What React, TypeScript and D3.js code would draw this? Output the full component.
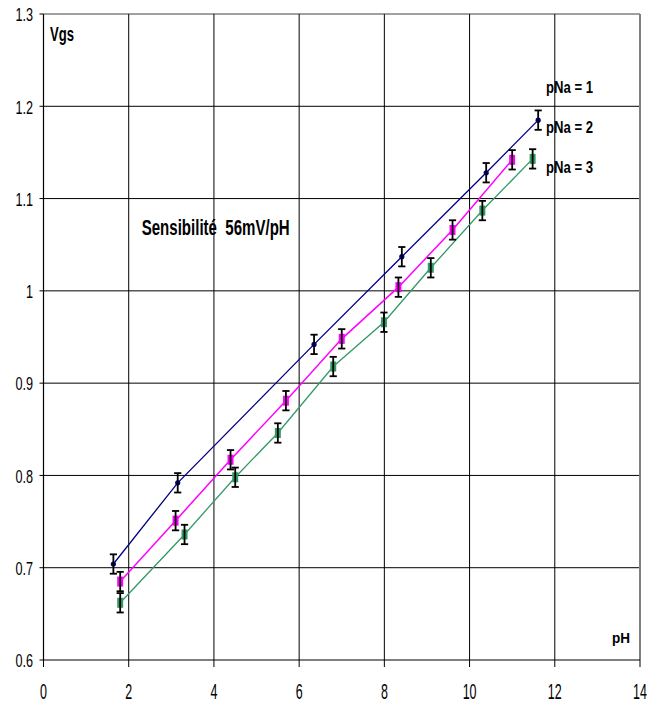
import React from "react";
import * as d3 from "d3";

const xTicks = [0, 2, 4, 6, 8, 10, 12, 14];
const yTicks = [0.6, 0.7, 0.8, 0.9, 1.0, 1.1, 1.2, 1.3];
const yTickLabels = ["0.6", "0.7", "0.8", "0.9", "1", "1.1", "1.2", "1.3"];

const pNa1PH = [1.64, 3.15, 6.35, 8.41, 10.39, 11.61];
const pNa1Vgs = [0.704, 0.792, 0.942, 1.037, 1.128, 1.185];
const pNa2PH = [1.8, 3.1, 4.39, 5.69, 7.0, 8.33, 9.6, 11.0];
const pNa2Vgs = [0.685, 0.751, 0.817, 0.881, 0.948, 1.004, 1.066, 1.142];
const pNa3PH = [1.8, 3.31, 4.5, 5.5, 6.8, 7.99, 9.09, 10.3, 11.48];
const pNa3Vgs = [0.662, 0.736, 0.798, 0.846, 0.918, 0.966, 1.025, 1.087, 1.143];
const errorMargin = 0.0105;

const seriesNames = ["pNa = 1", "pNa = 2", "pNa = 3"];

const W = 662;
const H = 709;
const left = 43.5;
const right = 640;
const top = 14;
const bottom = 660;

const FONT = "'Liberation Sans', Arial, sans-serif";

export default function App() {
  const x = d3.scaleLinear().domain([0, 14]).range([left, right]);
  const y = d3.scaleLinear().domain([0.6, 1.3]).range([bottom, top]);

  const series = [
    { name: seriesNames[0], xs: pNa1PH, ys: pNa1Vgs, color: "#000080", marker: "circle", lw: 1.3 },
    { name: seriesNames[1], xs: pNa2PH, ys: pNa2Vgs, color: "#FF00FF", marker: "rect", lw: 1.5 },
    { name: seriesNames[2], xs: pNa3PH, ys: pNa3Vgs, color: "#339966", marker: "rect", lw: 1.3 },
  ];

  const line = d3
    .line<[number, number]>()
    .x((d) => x(d[0]))
    .y((d) => y(d[1]));

  return (
    <svg
      width={W}
      height={H}
      style={{ position: "absolute", left: 0, top: 0, background: "#fff" }}
    >
      <rect x={0} y={0} width={W} height={H} fill="#fff" />
      {yTicks.map((t, i) =>
        i === 0 ? null : (
          <line
            key={"hy" + i}
            x1={left}
            x2={right}
            y1={y(t)}
            y2={y(t)}
            stroke={i === yTicks.length - 1 ? "#808080" : "#000"}
            strokeWidth={i === yTicks.length - 1 ? 1.6 : 1}
          />
        )
      )}
      {xTicks.map((t, i) =>
        i === 0 ? null : (
          <line
            key={"vx" + i}
            x1={x(t)}
            x2={x(t)}
            y1={top}
            y2={bottom}
            stroke={i === xTicks.length - 1 ? "#808080" : "#000"}
            strokeWidth={i === xTicks.length - 1 ? 2 : 1}
          />
        )
      )}
      <line x1={left} x2={left} y1={top} y2={bottom} stroke="#000" strokeWidth={1.2} />
      <line x1={left} x2={right} y1={bottom} y2={bottom} stroke="#000" strokeWidth={1.2} />
      {yTicks.map((t, i) => (
        <line key={"yt" + i} x1={left - 4} x2={left} y1={y(t)} y2={y(t)} stroke="#000" strokeWidth={1} />
      ))}
      {xTicks.map((t, i) => (
        <line key={"xt" + i} x1={x(t)} x2={x(t)} y1={bottom} y2={bottom + 7} stroke="#000" strokeWidth={1} />
      ))}
      {yTicks.map((t, i) => (
        <text
          key={"yl" + i}
          transform={`translate(33,${y(t) + 7.3}) scale(0.68,1)`}
          textAnchor="end"
          fontFamily={FONT}
          fontSize={18.6}
          fill="#000"
        >
          {yTickLabels[i]}
        </text>
      ))}
      {xTicks.map((t, i) => (
        <text
          key={"xl" + i}
          transform={`translate(${x(t)},699) scale(0.58,1)`}
          textAnchor="middle"
          fontFamily={FONT}
          fontSize={21.5}
          fill="#000"
        >
          {t}
        </text>
      ))}
      {series.map((s) => (
        <path
          key={"l" + s.name}
          d={line(s.xs.map((v, i) => [v, s.ys[i]] as [number, number])) || ""}
          fill="none"
          stroke={s.color}
          strokeWidth={s.lw}
        />
      ))}
      {series.map((s) =>
        s.xs.map((v, i) =>
          s.marker === "circle" ? (
            <circle key={"m" + s.name + i} cx={x(v)} cy={y(s.ys[i])} r={2.6} fill={s.color} />
          ) : (
            <rect
              key={"m" + s.name + i}
              x={x(v) - 3}
              y={y(s.ys[i]) - 5}
              width={6}
              height={10}
              fill={s.color}
            />
          )
        )
      )}
      {series.map((s) =>
        s.xs.map((v, i) => {
          const cx = x(v);
          const y1 = y(s.ys[i] + errorMargin);
          const y2 = y(s.ys[i] - errorMargin);
          return (
            <g key={"e" + s.name + i} stroke="#000" strokeWidth={1.8}>
              <line x1={cx} x2={cx} y1={y1} y2={y2} />
              <line x1={cx - 3.6} x2={cx + 3.6} y1={y1} y2={y1} />
              <line x1={cx - 3.6} x2={cx + 3.6} y1={y2} y2={y2} />
            </g>
          );
        })
      )}
      <text x={50} y={40.7} fontFamily={FONT} fontWeight="bold" fontSize={19.5} textLength={24} lengthAdjust="spacingAndGlyphs">
        Vgs
      </text>
      <text x={612} y={643.3} fontFamily={FONT} fontWeight="bold" fontSize={15} textLength={18} lengthAdjust="spacingAndGlyphs">
        pH
      </text>
      {seriesNames.map((n, i) => (
        <text
          key={"sn" + i}
          x={546}
          y={93.3 + i * 40}
          fontFamily={FONT}
          fontWeight="bold"
          fontSize={16.8}
          textLength={47}
          lengthAdjust="spacingAndGlyphs"
        >
          {n}
        </text>
      ))}
      <text
        x={141.7}
        y={235}
        fontFamily={FONT}
        fontWeight="bold"
        fontSize={22}
        textLength={148}
        lengthAdjust="spacingAndGlyphs"
        style={{ whiteSpace: "pre" }}
      >
        {"Sensibilité  56mV/pH"}
      </text>
    </svg>
  );
}
